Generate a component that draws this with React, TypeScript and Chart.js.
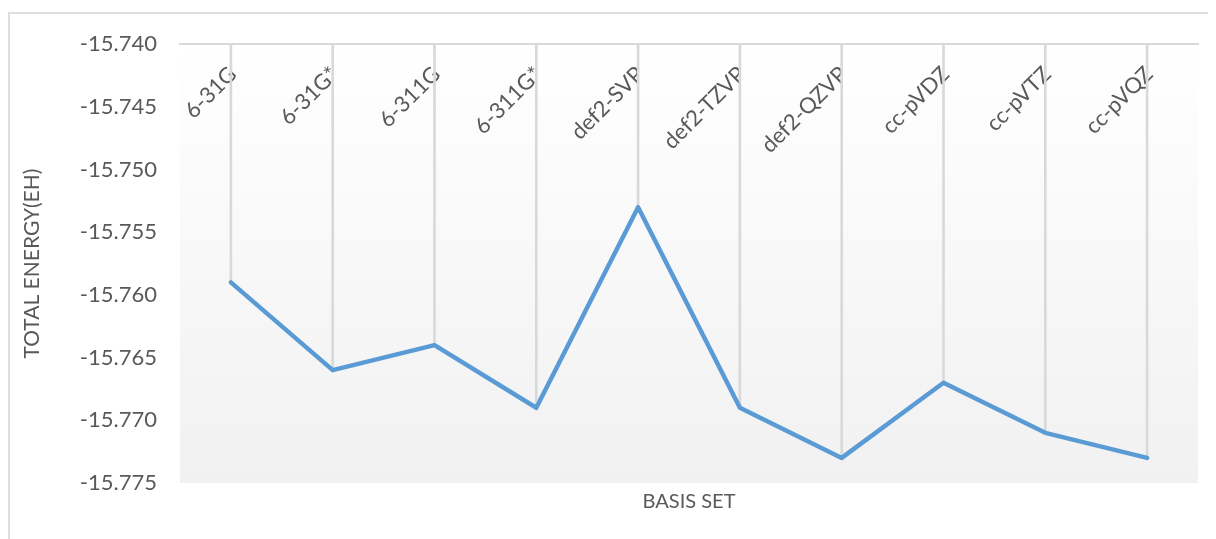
import React, { useEffect, useRef } from "react";
import { Chart, registerables } from "chart.js";

Chart.register(...registerables);

// Basis sets on the category axis and the total energy computed with each (Eh)
const basisSets = [
  "6-31G",
  "6-31G*",
  "6-311G",
  "6-311G*",
  "def2-SVP",
  "def2-TZVP",
  "def2-QZVP",
  "cc-pVDZ",
  "cc-pVTZ",
  "cc-pVQZ",
];
const totalEnergy = [
  -15.759, -15.766, -15.764, -15.769, -15.753, -15.769, -15.773, -15.767, -15.771, -15.773,
];

// Value axis range and tick step
const energyMin = -15.775;
const energyMax = -15.74;
const energyStep = 0.005;

const textColor = "#595959";
const fontFamily = "Lato, 'Open Sans', sans-serif";

// Soft vertical gradient behind the plot area
const plotBackground = {
  id: "plotBackground",
  beforeDraw(chart: any) {
    const { ctx, chartArea: a } = chart;
    if (!a) return;
    const g = ctx.createLinearGradient(0, a.top, 0, a.bottom);
    g.addColorStop(0, "#ffffff");
    g.addColorStop(1, "#f1f1f1");
    ctx.save();
    ctx.fillStyle = g;
    ctx.fillRect(a.left, a.top, a.right - a.left, a.bottom - a.top);
    ctx.restore();
  },
};

export default function App() {
  const canvasRef = useRef<HTMLCanvasElement | null>(null);

  useEffect(() => {
    const canvas = canvasRef.current;
    if (!canvas) return;
    const chart = new Chart(canvas, {
      type: "line",
      data: {
        labels: basisSets,
        datasets: [
          {
            type: "line",
            label: "Total energy",
            data: totalEnergy,
            borderColor: "#5b9bd5",
            backgroundColor: "#5b9bd5",
            borderWidth: 4.5,
            pointRadius: 0,
            tension: 0,
            borderJoinStyle: "round",
            borderCapStyle: "round",
            order: 0,
            xAxisID: "x",
            yAxisID: "y",
          },
          {
            // drop lines from the category axis down to each point
            type: "bar",
            label: "Drop lines",
            data: totalEnergy.map((v) => [energyMax, v]),
            backgroundColor: "#d9d9d9",
            borderWidth: 0,
            barThickness: 2,
            order: 1,
            xAxisID: "x",
            yAxisID: "y",
          },
        ] as any,
      },
      options: {
        animation: false,
        responsive: false,
        maintainAspectRatio: false,
        devicePixelRatio: 1,
        layout: { padding: { top: 34, right: 18, left: 0, bottom: 0 } },
        plugins: {
          legend: { display: false },
          tooltip: { enabled: false },
        },
        scales: {
          x: {
            type: "category",
            position: { y: energyMax } as any,
            offset: true,
            z: 1,
            grid: { display: false, drawTicks: false },
            border: { display: true, color: "#d9d9d9", width: 2 },
            ticks: {
              autoSkip: false,
              minRotation: 45,
              maxRotation: 45,
              padding: 17,
              labelOffset: 2,
              color: textColor,
              font: { family: fontFamily, size: 22 },
            },
            afterFit(scale: any) {
              scale.height = 0;
            },
          },
          xTitle: {
            type: "category",
            position: "bottom",
            labels: basisSets,
            offset: true,
            grid: { display: false, drawTicks: false },
            border: { display: false },
            ticks: { display: false },
            title: {
              display: true,
              text: "BASIS SET",
              color: textColor,
              font: { family: fontFamily, size: 20 },
              padding: { top: 0, bottom: 25 },
            },
            afterFit(scale: any) {
              scale.height = 56;
            },
          },
          y: {
            type: "linear",
            position: "left",
            min: energyMin,
            max: energyMax,
            grid: { display: false, drawTicks: false },
            border: { display: false },
            ticks: {
              stepSize: energyStep,
              padding: 23,
              color: textColor,
              font: { family: fontFamily, size: 22 },
              callback: (v: any) => Number(v).toFixed(3),
            },
            title: {
              display: true,
              text: "TOTAL ENERGY(EH)",
              color: textColor,
              font: { family: fontFamily, size: 21 },
              padding: { top: 12, bottom: 0 },
            },
            afterFit(scale: any) {
              scale.width = 172;
            },
          },
        },
      } as any,
      plugins: [plotBackground],
    });
    return () => chart.destroy();
  }, []);

  return (
    <div style={{ position: "relative", width: 1208, height: 531, overflow: "hidden" }}>
      <div
        style={{
          position: "absolute",
          left: 0,
          top: 4,
          width: 1400,
          height: 800,
          border: "2px solid #dedede",
          boxSizing: "border-box",
        }}
      />
      <canvas
        ref={canvasRef}
        width={1208}
        height={531}
        style={{ position: "absolute", left: 0, top: 0, width: 1208, height: 531 }}
      />
    </div>
  );
}
